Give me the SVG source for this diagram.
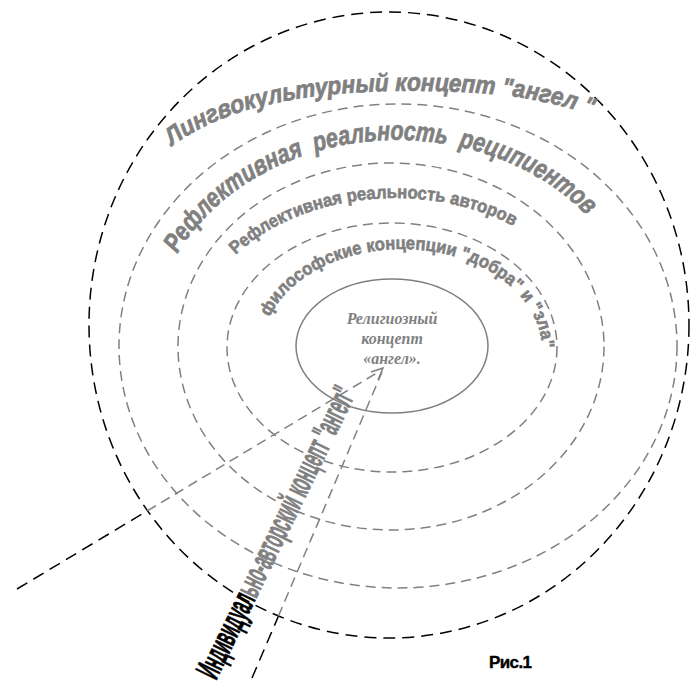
<svg xmlns="http://www.w3.org/2000/svg" width="695" height="686" viewBox="0 0 695 686">
<style>
.blk{fill:none;stroke:#000;stroke-width:1.5;stroke-dasharray:12 7}
.gry{fill:none;stroke:#808080;stroke-width:1.5;stroke-dasharray:10 6}
.ring-big{font-family:"Liberation Sans",Arial,sans-serif;font-weight:bold;font-style:italic;fill:#808080;stroke:#808080;stroke-width:0.7}
.ring-small{font-family:"Liberation Sans",Arial,sans-serif;font-weight:bold;fill:#808080;stroke:#808080;stroke-width:0.6}
.core{font-family:"Liberation Serif","Times New Roman",serif;font-style:italic;font-weight:bold;font-size:16px;fill:#808080}
</style>
<defs>
<path id="p1" d="M170,148 C215,112 290,92 400,91 C490,90 550,98 602,120"/>
<path id="p2" d="M151,347 A246,207 0 0 1 643,347"/>
<path id="p3" d="M192,347 A203,149 0 0 1 598,347"/>
<path id="p4" d="M262,350 A140,101 0 0 1 542,350"/>
</defs>
<g id="outer">
<ellipse class="blk" cx="389" cy="325" rx="300" ry="313"/>
<text class="ring-big" font-size="25"><textPath href="#p1" startOffset="3" textLength="432" lengthAdjust="spacingAndGlyphs">Лингвокультурный концепт "ангел "</textPath></text>
</g>
<g id="ring-recipients">
<ellipse class="gry" cx="398" cy="346" rx="279" ry="242"/>
<text class="ring-big" font-size="27"><textPath href="#p2" startOffset="98" textLength="468" lengthAdjust="spacingAndGlyphs">Рефлективная&#160; реальность&#160; реципиентов</textPath></text>
</g>
<g id="ring-authors">
<ellipse class="gry" cx="391" cy="346.5" rx="213" ry="183.5"/>
<text class="ring-small" font-size="18"><textPath href="#p3" startOffset="105" textLength="296" lengthAdjust="spacingAndGlyphs">Рефлективная реальность авторов</textPath></text>
</g>
<g id="ring-philosophy">
<ellipse class="gry" cx="392" cy="347.5" rx="165" ry="124.5"/>
<text class="ring-small" font-size="18"><textPath href="#p4" startOffset="34" textLength="345" lengthAdjust="spacingAndGlyphs">философские концепции "добра" и "зла"</textPath></text>
</g>
<g id="core">
<ellipse cx="392" cy="346" rx="96" ry="67" fill="none" stroke="#808080" stroke-width="1.5"/>
<text class="core" text-anchor="middle" x="392" y="324">Религиозный</text>
<text class="core" text-anchor="middle" x="392" y="344">концепт</text>
<text class="core" text-anchor="middle" x="392" y="364">«ангел».</text>
</g>
<g id="connectors">
<line class="blk" x1="17" y1="589" x2="147.3" y2="510.9"/>
<line class="gry" x1="147.3" y1="510.9" x2="380" y2="371"/>
<line class="blk" x1="252" y1="678" x2="278.4" y2="616.2"/>
<line class="gry" x1="278.4" y1="616.2" x2="382" y2="372"/>
<path d="M371,372 L383,368 L378,380" fill="none" stroke="#808080" stroke-width="1.5"/>
</g>
<g id="individual">
<text transform="translate(216,681) rotate(-64)" x="0" y="0" font-family="'Liberation Sans Narrow','Liberation Sans',Arial,sans-serif" font-weight="bold" font-size="34" textLength="320" lengthAdjust="spacingAndGlyphs"><tspan fill="#000" stroke="#000" stroke-width="0.8">Индивидуал</tspan><tspan fill="#808080" stroke="#808080" stroke-width="0.8">ьно-авторский концепт "ангел"</tspan></text>
</g>
<g id="caption">
<text x="489" y="668" font-family="'Liberation Sans',Arial,sans-serif" font-weight="bold" font-size="17" letter-spacing="-0.6" fill="#000" stroke="#000" stroke-width="0.4">Рис.1</text>
</g>
</svg>
